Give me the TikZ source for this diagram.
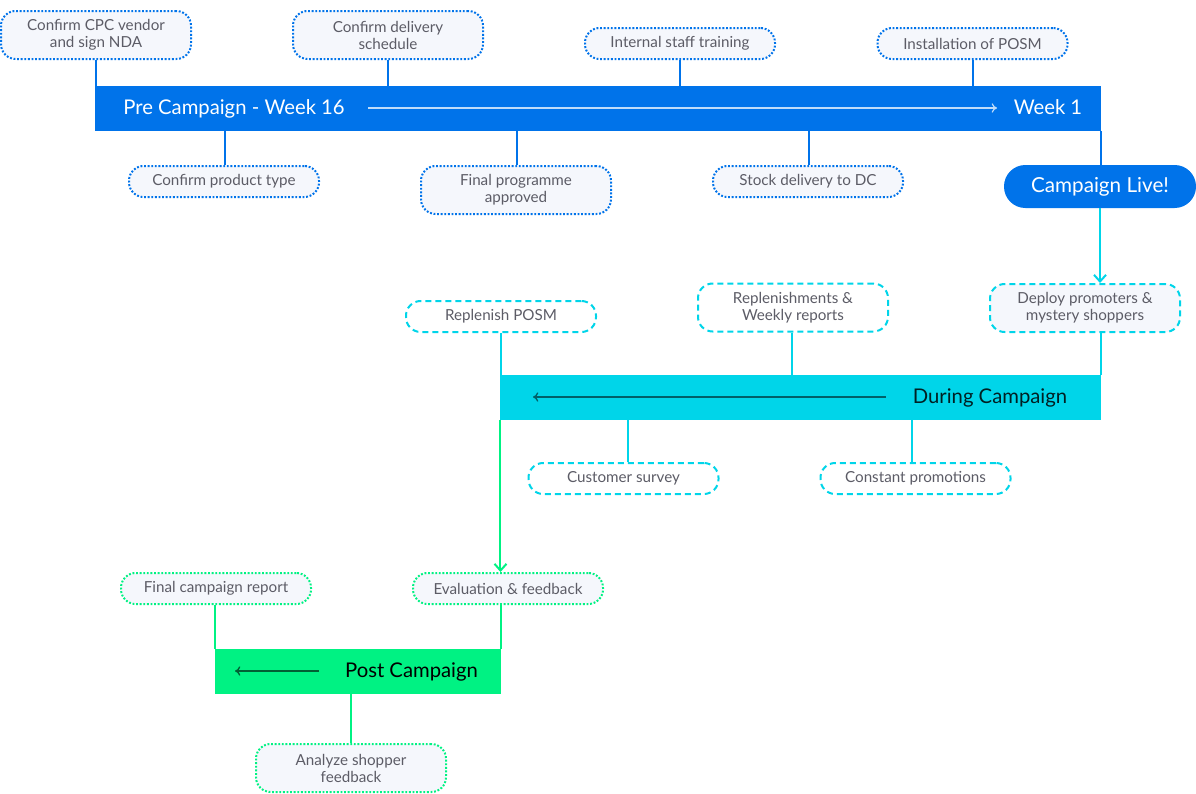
\documentclass[tikz,border=0pt]{standalone}
\usepackage{fontspec}
\setmainfont{Lato}
\usetikzlibrary{arrows.meta}
\definecolor{mblue}{HTML}{0073EA}
\definecolor{mcyan}{HTML}{00D5E9}
\definecolor{mgreen}{HTML}{00F283}
\definecolor{nfill}{HTML}{F5F7FC}
\definecolor{ntext}{HTML}{5C5C66}
\tikzset{
  box/.style={rounded corners=11pt, fill=nfill, line width=1.5pt, text=ntext,
    font=\fontsize{11.4}{12.8}\selectfont, align=center, minimum width=142.5pt,
    minimum height=23.25pt, inner sep=0pt},
  tall/.style={minimum height=36pt},
  bluebox/.style={box, draw=mblue, dash pattern=on 1.4pt off 1.3pt},
  cyanbox/.style={box, draw=mcyan, dash pattern=on 4.5pt off 3pt},
  greenbox/.style={box, draw=mgreen, dash pattern=on 1.4pt off 1.3pt},
  bar/.style={minimum height=33.75pt, inner sep=0pt},
  bluelink/.style={draw=mblue, line width=1.5pt},
  cyanlink/.style={draw=mcyan, line width=1.5pt},
  greenlink/.style={draw=mgreen, line width=1.5pt},
  bartext/.style={font=\fontsize{15.2}{17}\selectfont, inner sep=0pt, anchor=base},
}
\begin{document}
\begin{tikzpicture}[x=0.75pt,y=-0.75pt]
\useasboundingbox[fill=white] (0,0) rectangle (1196,793);
% bars
\node[bar, fill=mblue, minimum width=754.5pt] (pre) at (598,108.5) {};
\node[bar, fill=mcyan, minimum width=450.75pt] (dur) at (800.5,397.5) {};
\node[bar, fill=mgreen, minimum width=214.5pt] (post) at (358,671.5) {};
% bar texts
\node[bartext, text=white] (pret) at (234,114.5) {Pre Campaign - Week 16};
\node[bartext, text=white] (wk1) at (1048,114.5) {Week 1};
\coordinate (preA) at (368,108);
\coordinate (preB) at (997,108);
\draw[white!75!mblue, line width=0.9pt, -{To[length=4pt,width=7pt]}] (preA) -- (preB);
\node[bartext, text=black!85!mcyan] (durt) at (990,403.5) {During Campaign};
\coordinate (durA) at (886,397);
\coordinate (durB) at (533,397);
\draw[black!55!mcyan, line width=1pt, -{To[length=4pt,width=7pt]}] (durA) -- (durB);
\node[bartext, text=black] (postt) at (411.5,677.5) {Post Campaign};
\coordinate (postA) at (319,671);
\coordinate (postB) at (235,671);
\draw[black!60!mgreen, line width=1pt, -{To[length=4pt,width=7pt]}] (postA) -- (postB);
% pre campaign nodes
\node[bluebox, tall] (cpc) at (96,35) {Confirm CPC vendor\\and sign NDA};
\node[bluebox, tall] (cds) at (388,35) {Confirm delivery\\schedule};
\node[bluebox] (ist) at (680,43.5) {Internal staff training};
\node[bluebox] (ipo) at (972.5,43.5) {Installation of POSM};
\node[bluebox] (cpt) at (224,181.5) {Confirm product type};
\node[bluebox, tall] (fpa) at (516,190) {Final programme\\approved};
\node[bluebox] (sdd) at (808,181.5) {Stock delivery to DC};
\node[fill=mblue, text=white, rounded corners=16pt, minimum width=144pt, minimum height=32.25pt,
  inner sep=0pt, font=\fontsize{15.5}{17}\selectfont] (live) at (1100,186.5) {Campaign Live!};
% during nodes
\node[cyanbox, tall] (dep) at (1085,308) {Deploy promoters \&\\mystery shoppers};
\node[cyanbox, fill=white] (rpo) at (501,316.5) {Replenish POSM};
\node[cyanbox, tall, fill=white] (rwr) at (793,307.5) {Replenishments \&\\Weekly reports};
\node[cyanbox, fill=white] (csv) at (623.5,478.5) {Customer survey};
\node[cyanbox, fill=white] (cpr) at (915.5,478.5) {Constant promotions};
% post nodes
\node[greenbox] (eva) at (508,588.5) {Evaluation \& feedback};
\node[greenbox] (fcr) at (216,588.5) {Final campaign report};
\node[greenbox, tall] (asf) at (351,768) {Analyze shopper\\feedback};
% links pre
\draw[bluelink] (pre.north west) ++(1,0) coordinate (c1) -- (c1 |- cpc.south);
\draw[bluelink] (cds.south) -- (cds.south |- pre.north);
\draw[bluelink] (ist.south) -- (ist.south |- pre.north);
\draw[bluelink] (ipo.south) -- (ipo.south |- pre.north);
\draw[bluelink] (cpt.north) ++(1,0) coordinate (c2) (c2 |- pre.south) -- (c2);
\draw[bluelink] (fpa.north) ++(1,0) coordinate (c3) (c3 |- pre.south) -- (c3);
\draw[bluelink] (sdd.north) ++(1,0) coordinate (c4) (c4 |- pre.south) -- (c4);
\draw[bluelink] (pre.south east) ++(-0.75,0) coordinate (c5) -- (c5 |- live.north);
% links during
\draw[cyanlink, -{Straight Barb[length=5pt,width=9pt]}] (live.south) -- (live.south |- dep.north);
\draw[cyanlink] (dur.north east) ++(-0.75,0) coordinate (c6) -- (c6 |- dep.south);
\draw[cyanlink] (rpo.south) -- (rpo.south |- dur.north);
\draw[cyanlink] (rwr.south) ++(-1,0) coordinate (c7) -- (c7 |- dur.north);
\draw[cyanlink] (csv.north) ++(4.5,0) coordinate (c8) -- (c8 |- dur.south);
\draw[cyanlink] (cpr.north) ++(-3.5,0) coordinate (c9) -- (c9 |- dur.south);
% links post
\draw[greenlink, -{Straight Barb[length=5pt,width=9pt]}] (dur.south west) ++(0.75,0) coordinate (c10) -- (c10 |- eva.north);
\draw[greenlink] (post.north east) ++(-0.75,0) coordinate (c11) -- (c11 |- eva.south);
\draw[greenlink] (post.north west) ++(0.75,0) coordinate (c12) -- (c12 |- fcr.south);
\draw[greenlink] (asf.north) -- (asf.north |- post.south);
\end{tikzpicture}
\end{document}
